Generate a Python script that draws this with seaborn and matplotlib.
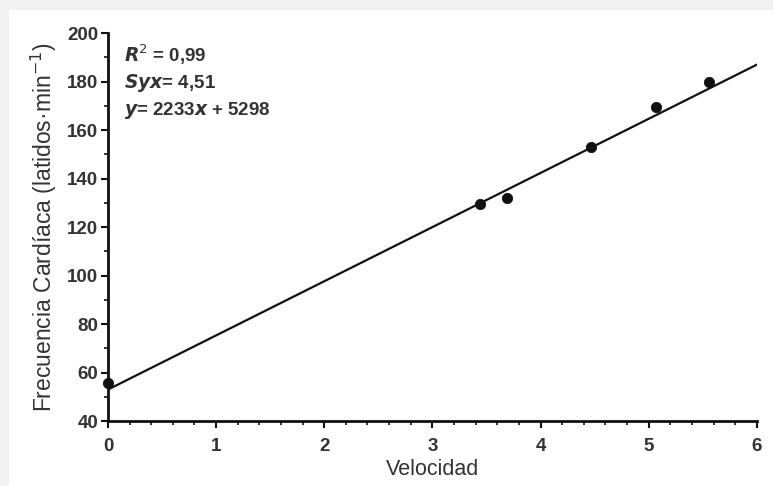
import numpy as np
import pandas as pd
import matplotlib
matplotlib.use('Agg')
import matplotlib.pyplot as plt
from matplotlib.ticker import MultipleLocator
from matplotlib.patches import Rectangle
import seaborn as sns

# data
velocidad = [0.0, 3.44, 3.69, 4.47, 5.07, 5.56]
frecuencia = [55.5, 129.5, 132, 153, 169.5, 180]
slope = 22.33
intercept = 52.98
x_ticks = [0, 1, 2, 3, 4, 5, 6]
y_ticks = [40, 60, 80, 100, 120, 140, 160, 180, 200]

sns.set_style('white')
plt.rcParams['font.family'] = ['Liberation Sans', 'DejaVu Sans']

df = pd.DataFrame({'Velocidad': velocidad, 'FC': frecuencia})
line_x = np.array([0, 6])
line_df = pd.DataFrame({'x': line_x, 'y': slope * line_x + intercept})

fig = plt.figure(figsize=(7.73, 4.86), dpi=100, facecolor='white')
# light gray border strip at top and left
fig.patches.append(Rectangle((0, 0), 8 / 773, 1, transform=fig.transFigure,
                             color='#f2f2f2', zorder=-1))
fig.patches.append(Rectangle((0, 1 - 9 / 486), 1, 9 / 486, transform=fig.transFigure,
                             color='#f2f2f2', zorder=-1))

ax = fig.add_axes([0.1397, 0.1337, 0.8393, 0.7983])
ax.set_facecolor('white')

sns.lineplot(data=line_df, x='x', y='y', color='#111111', linewidth=1.6, ax=ax)
sns.scatterplot(data=df, x='Velocidad', y='FC', color='#111111', s=55,
                edgecolor='#111111', ax=ax, zorder=3, clip_on=False)

ax.set_xlim(0, 6)
ax.set_ylim(40, 200)
ax.set_xticks(x_ticks)
ax.set_yticks(y_ticks)
ax.xaxis.set_minor_locator(MultipleLocator(0.2))
ax.yaxis.set_minor_locator(MultipleLocator(10))

for side in ['top', 'right']:
    ax.spines[side].set_visible(False)
for side in ['left', 'bottom']:
    ax.spines[side].set_linewidth(2)
    ax.spines[side].set_color('#111111')

ax.tick_params(which='major', direction='out', length=5, width=1.5,
               color='#111111', labelsize=13.5, bottom=True, left=True)
ax.tick_params(axis='x', which='major', pad=7)
ax.tick_params(axis='y', which='major', pad=2)
ax.tick_params(which='minor', direction='out', length=3, width=1.2,
               color='#111111', bottom=True, left=True)
for lab in ax.get_xticklabels() + ax.get_yticklabels():
    lab.set_fontweight('bold')
    lab.set_color('#333333')

ax.set_xlabel('Velocidad', fontsize=15.5, color='#333333', labelpad=3)
ax.set_ylabel('Frecuencia Cardíaca (latidos·min$^{-1}$)', fontsize=16.5,
              color='#333333', labelpad=6)

txt = dict(transform=ax.transAxes, fontsize=13.5, fontweight='bold', color='#333333',
           va='center', ha='left')
ax.text(0.025, 0.943, r'$\mathbfit{R}^2$ = 0,99', **txt)
ax.text(0.025, 0.870, r'$\mathbfit{Syx}$= 4,51', **txt)
ax.text(0.025, 0.800, r'$\mathbfit{y}$= 2233$\mathbfit{x}$ + 5298', **txt)

fig.savefig('out.png', dpi=100, facecolor=fig.get_facecolor())
